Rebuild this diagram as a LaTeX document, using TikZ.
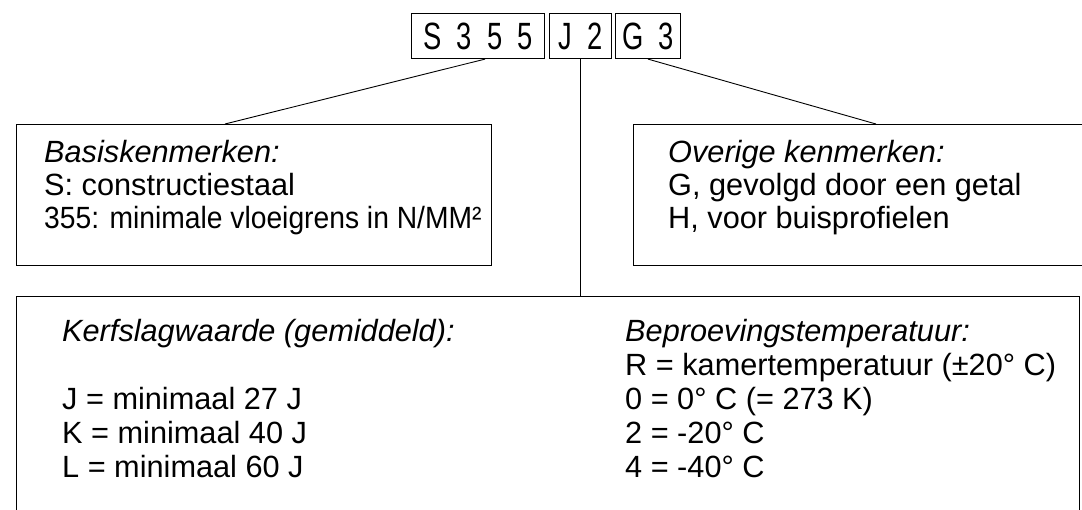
\documentclass[tikz,border=0pt]{standalone}
\usepackage{fontspec}
\setmainfont{Liberation Sans}
\newfontfamily\narrowf{Liberation Sans}[FakeStretch=0.92]
\newfontfamily\codef{Liberation Sans}[FakeStretch=0.72]
\usetikzlibrary{calc}
\newcommand{\cg}{\hspace{15pt}}
\begin{document}
\begin{tikzpicture}[x=1pt,y=-1pt,
  box/.style={draw, line width=1.1pt, inner sep=0pt, anchor=north west},
  code/.style={draw, line width=1.1pt, minimum height=45pt, inner sep=0pt, anchor=north west, font=\fontsize{38}{38}\selectfont\codef},
  txt/.style={anchor=base west, inner sep=0pt, font=\fontsize{30.7}{34}\selectfont},
  head/.style={anchor=base west, inner sep=0pt, font=\fontsize{30.7}{34}\selectfont\itshape},
  narrow/.style={anchor=base west, inner sep=0pt, font=\fontsize{30.7}{34}\selectfont\narrowf},
  conn/.style={line width=0.9pt}]
\useasboundingbox (0,0) rectangle (1082,509);
% code boxes
\node[code, minimum width=133pt] (s355) at (411,13) {S\cg3\cg5\cg5};
\node[code, minimum width=62pt] (j2) at (549,13) {J\cg2};
\node[code, minimum width=65pt] (g3) at (615,13) {G\cg3};
% boxes
\node[box, minimum width=475pt, minimum height=141pt] (lbox) at (16,124) {};
\node[box, minimum width=470pt, minimum height=141pt] (rbox) at (633,124) {};
\node[box, minimum width=1063pt, minimum height=240pt] (bbox) at (16,296) {};
% connectors
\draw[conn] ($(s355.south west)+(74,0)$) -- ($(lbox.north west)+(209,0)$);
\draw[conn] ($(g3.south west)+(33,0)$) -- ($(rbox.north west)+(243,0)$);
\draw[conn] (j2.south) -- (j2.south |- bbox.north);
% left box
\node[head] (l1) at (44,162) {Basiskenmerken:};
\node[txt] (l2) at (44,195) {S: constructiestaal};
\node[narrow] (l3) at (44,228) {355: minimale vloeigrens in N/MM²};
% right box
\node[head] (r1) at (668,162) {Overige kenmerken:};
\node[txt] (r2) at (668,195) {G, gevolgd door een getal};
\node[txt] (r3) at (668,228) {H, voor buisprofielen};
% bottom box left
\node[head] (b1) at (62,341) {Kerfslagwaarde (gemiddeld):};
\node[txt] (b2) at (62,409) {J = minimaal 27 J};
\node[txt] (b3) at (62,443) {K = minimaal 40 J};
\node[txt] (b4) at (62,477) {L = minimaal 60 J};
% bottom box right
\node[head] (c1) at (625,341) {Beproevingstemperatuur:};
\node[txt] (c2) at (625,375) {R = kamertemperatuur (±20° C)};
\node[txt] (c3) at (625,409) {0 = 0° C (= 273 K)};
\node[txt] (c4) at (625,443) {2 = -20° C};
\node[txt] (c5) at (625,477) {4 = -40° C};
\end{tikzpicture}
\end{document}
